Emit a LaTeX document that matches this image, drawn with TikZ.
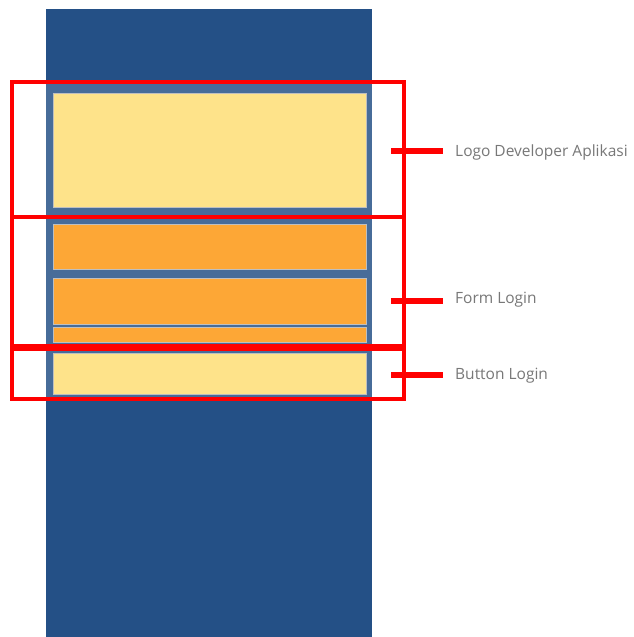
\documentclass[tikz,border=0pt]{standalone}
\usepackage{fontspec}
\setmainfont{Open Sans}
\definecolor{colblue}{RGB}{36,80,134}
\definecolor{paleyel}{RGB}{254,227,138}
\definecolor{orangebox}{RGB}{253,167,54}
\definecolor{labelgray}{RGB}{120,120,120}
\definecolor{redline}{RGB}{255,0,0}
\begin{document}
\begin{tikzpicture}[x=1pt,y=-1pt,
  panel/.style={draw=black!25,line width=0.4pt},
  yelbox/.style={panel,fill=paleyel},
  orgbox/.style={panel,fill=orangebox},
  sectionbox/.style={draw=redline,line width=3.2pt,fill=white,fill opacity=0.16},
  tickline/.style={draw=redline,line width=6pt,shorten >=12pt},
  lbl/.style={anchor=west,inner sep=0pt,text=labelgray,font=\fontsize{15.5}{17}\selectfont}]
\useasboundingbox (0,0) rectangle (633,637);
\fill[white] (0,0) rectangle (633,637);
% column
\fill[colblue] (46,9) rectangle (372,637);
% red section boxes
\draw[sectionbox] (12,82) rectangle (404,217);
\draw[sectionbox] (12,217) rectangle (404,346);
\draw[sectionbox] (12,349) rectangle (404,399);
% content boxes
\draw[yelbox] (53.5,93.5) rectangle (366,207.5);
\draw[orgbox] (53.5,224) rectangle (366,269.5);
\draw[orgbox] (53.5,278.5) rectangle (366,324);
\draw[orgbox] (53.5,327.5) rectangle (366,342.5);
\draw[yelbox] (53.5,353.5) rectangle (366,394.5);
% labels
\node[lbl] (l1) at (455,152) {Logo Developer Aplikasi};
\node[lbl] (l2) at (455,300) {Form Login};
\node[lbl] (l3) at (455,376) {Button Login};
\coordinate (t1) at (391,151);
\coordinate (t2) at (391,300.5);
\coordinate (t3) at (391,374.5);
\draw[tickline] (t1) -- (t1 -| l1.west);
\draw[tickline] (t2) -- (t2 -| l2.west);
\draw[tickline] (t3) -- (t3 -| l3.west);
\end{tikzpicture}
\end{document}
